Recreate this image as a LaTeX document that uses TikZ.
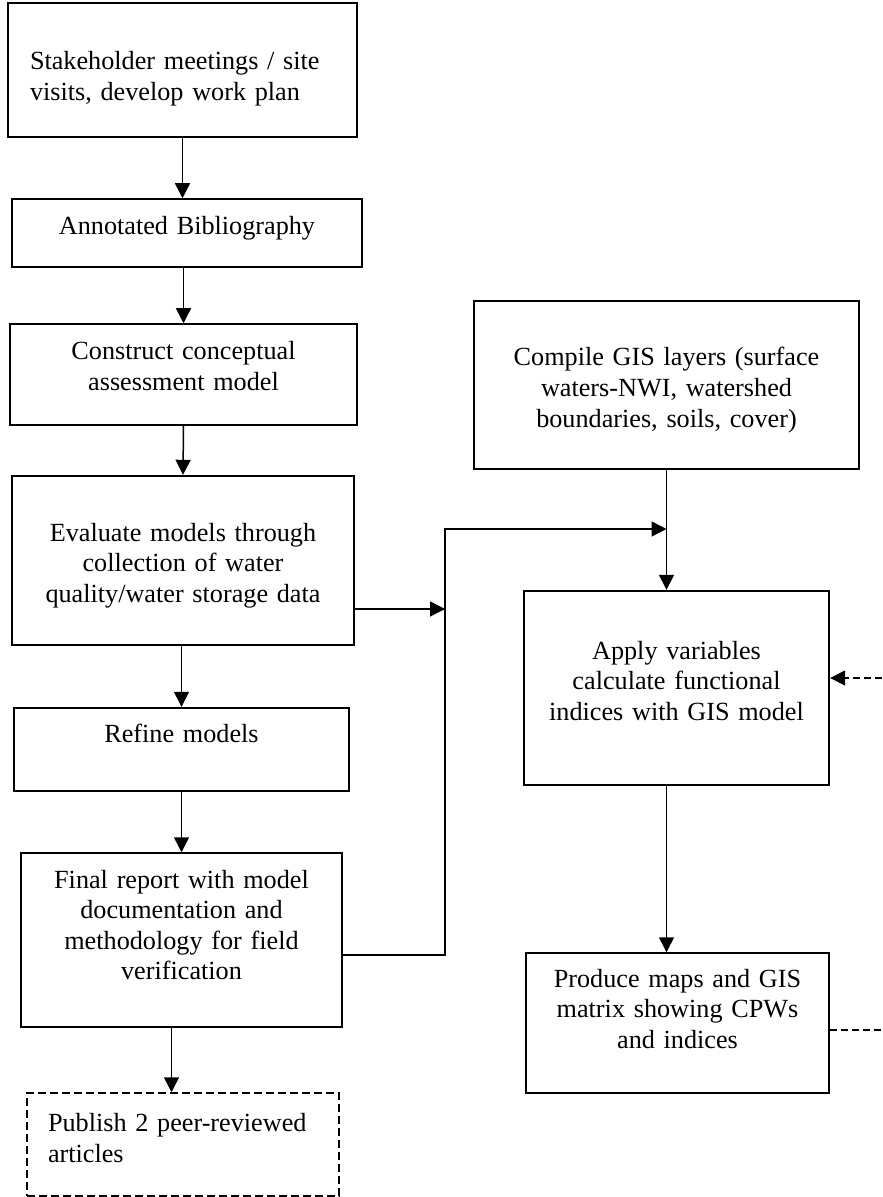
\documentclass[tikz,border=0pt]{standalone}
\usepackage{fontspec}
\setmainfont{Liberation Serif}
\usetikzlibrary{arrows.meta}
\newcommand\boxfont{\fontsize{13.1}{15.25}\selectfont}
\tikzset{
  stepbox/.style={rectangle,draw=black,line width=0.75pt,inner sep=0pt,
    align=center,font=\boxfont},
  keybox/.style={stepbox,line width=1.2pt},
  optbox/.style={stepbox,dash pattern=on 4pt off 2pt},
  flow/.style={-{Triangle[length=7.5pt,width=7.5pt]},line width=0.75pt},
  fb/.style={line width=0.75pt,dash pattern=on 3.5pt off 2pt},
}

\begin{document}
\begin{tikzpicture}[x=0.5pt,y=-0.5pt]
  \useasboundingbox (0,0) rectangle (882,1197);
  % left column: project steps
  \node[stepbox,align=left,minimum width=174.5pt,minimum height=67pt,
    text width=152.5pt,text height=15pt,text depth=15pt] (stake) at (182.5,70)
    {Stakeholder meetings / site\\visits, develop work plan};
  \node[stepbox,minimum width=175pt,minimum height=34pt,
    text width=165pt,text height=6pt,text depth=4pt] (bib) at (187,233)
    {Annotated Bibliography};
  \node[stepbox,minimum width=173.5pt,minimum height=50.5pt,
    text width=163pt,text height=5pt,text depth=19.5pt] (concept) at (183.5,374.5)
    {Construct conceptual\\assessment model};
  \node[keybox,minimum width=171pt,minimum height=84.5pt,
    text width=161pt,text height=5pt,text depth=24.5pt] (evaluate) at (183,560.5)
    {Evaluate models through\\collection of water\\quality/water storage data};
  \node[keybox,minimum width=167.5pt,minimum height=41.5pt,
    text width=157pt,text height=5pt,text depth=11.8pt] (refine) at (181.5,749.5)
    {Refine models};
  \node[stepbox,minimum width=160.5pt,minimum height=87pt,
    text width=150pt,text height=5pt,text depth=57pt] (final) at (181.5,940)
    {Final report with model\\documentation and\\methodology for field\\verification};
  \node[optbox,align=left,minimum width=156pt,minimum height=51.5pt,
    text width=135pt,text height=5pt,text depth=17.8pt] (publish) at (183,1144.5)
    {Publish 2 peer-reviewed\\articles};
  % right column: GIS work
  \node[stepbox,minimum width=192.5pt,minimum height=84pt,
    text width=182pt,text height=5pt,text depth=24pt] (compile) at (666.5,385)
    {Compile GIS layers (surface\\waters-NWI, watershed\\boundaries, soils, cover)};
  \node[keybox,minimum width=152.5pt,minimum height=97pt,
    text width=142pt,text height=5pt,text depth=34pt] (apply) at (676.5,688)
    {Apply variables\\calculate functional\\indices with GIS model};
  \node[stepbox,minimum width=151.5pt,minimum height=70pt,
    text width=141pt,text height=5pt,text depth=41pt] (produce) at (677.5,1023)
    {Produce maps and GIS\\matrix showing CPWs\\and indices};
  % junction line and loose ends
  \coordinate (jtop) at (445,529);
  \coordinate (jmid) at (445,609);
  \coordinate (jbot) at (445,955);
  \coordinate (fbin) at (882,678);
  \coordinate (fbout) at (882,1030);
  % connectors
  \draw[flow] (stake) -- (stake |- bib.north);
  \draw[flow] (concept |- bib.south) -- (concept.north);
  \draw[flow] (concept.south) -- (evaluate.north);
  \draw[flow] (refine |- evaluate.south) -- (refine.north);
  \draw[flow] (refine) -- (final);
  \draw[flow] ([xshift=-5pt]final.south) -- ([xshift=-5pt]final.south |- publish.north);
  \draw[flow] (evaluate.east |- jmid) -- (jmid);
  \draw[flow] (jbot -| final.east) -- (jbot) -- (jtop) -- (jtop -| compile.south);
  \draw[flow] (compile) -- (compile |- apply.north);
  \draw[flow] (compile.south |- apply.south) -- (compile.south |- produce.north);
  \draw[flow,fb] (fbin) -- (fbin -| apply.east);
  \draw[fb] (produce.east |- fbout) -- (fbout);
\end{tikzpicture}
\end{document}
